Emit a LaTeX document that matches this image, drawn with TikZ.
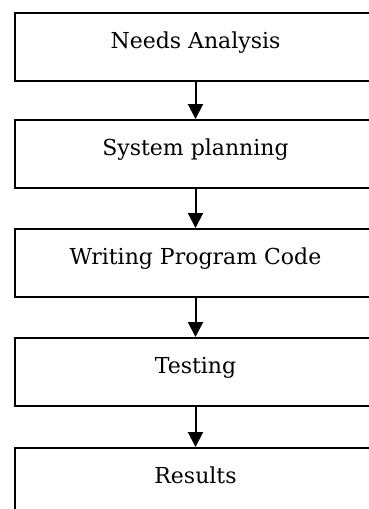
\documentclass[tikz,border=0pt]{standalone}
\usepackage{fontspec}
\setmainfont{DejaVu Serif}
\usetikzlibrary{arrows.meta}
\begin{document}
\begin{tikzpicture}[x=1pt,y=-1pt,
  box/.style={draw=black,line width=2pt,rectangle,minimum width=361pt,minimum height=68pt,inner sep=0pt,anchor=north west},
  lbl/.style={anchor=base,inner sep=0pt,font=\fontsize{22}{26}\selectfont},
  arr/.style={line width=2pt,-{Triangle[length=15pt,width=15pt]}}]
\useasboundingbox (0,0) rectangle (368,509);
\node[box] (b1) at (14,12) {};
\node[box] (b2) at (14,119) {};
\node[box] (b3) at (14,228) {};
\node[box] (b4) at (14,337) {};
\node[box] (b5) at (14,447) {};
\node[lbl] (t1) at ([yshift=-36pt]b1.north) {Needs Analysis};
\node[lbl] (t2) at ([yshift=-36pt]b2.north) {System planning};
\node[lbl] (t3) at ([yshift=-36pt]b3.north) {Writing Program Code};
\node[lbl] (t4) at ([yshift=-36pt]b4.north) {Testing};
\node[lbl] (t5) at ([yshift=-36pt]b5.north) {Results};
\draw[arr] (b1.south) -- (b2.north);
\draw[arr] (b2.south) -- (b3.north);
\draw[arr] (b3.south) -- (b4.north);
\draw[arr] (b4.south) -- (b5.north);
\end{tikzpicture}
\end{document}
